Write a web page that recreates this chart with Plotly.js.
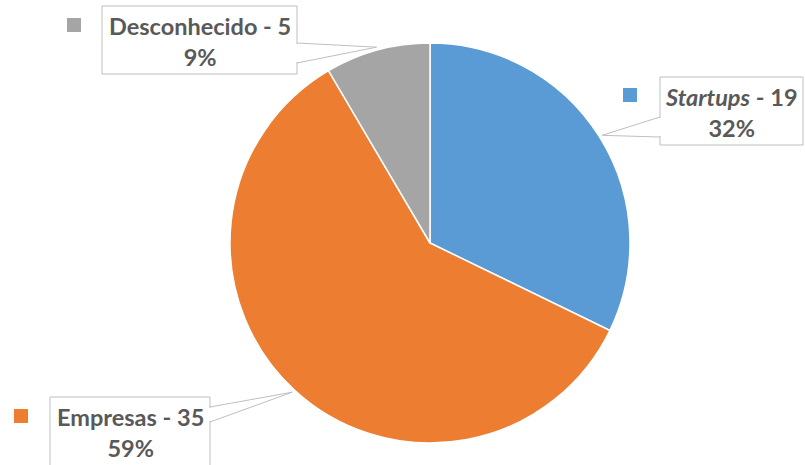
<!DOCTYPE html>
<html>
<head>
<meta charset="utf-8">
<script src="https://cdn.plot.ly/plotly-3.0.1.min.js"></script>
<style>html,body{margin:0;padding:0;background:#fff;}#chart{width:805px;height:465px;}</style>
</head>
<body>
<div id="chart"></div>
<script>
var labels = ["Startups", "Empresas", "Desconhecido"];
var labelHtml = ["<i>Startups</i>", "Empresas", "Desconhecido"];
var values = [19, 35, 5];
var percents = [32, 59, 9];
var colors = ["#5B9BD5", "#ED7D31", "#A5A5A5"];

var W = 805, H = 465;
var cx = 430, cy = 243, R = 200;
var total = values.reduce(function(a,b){return a+b;}, 0);

var boxes = [
  {x0: 660, y0: 77, x1: 803, y1: 145, side: "left", ay: [117, 137], mx: 623, my: 88},
  {x0: 50, y0: 397, x1: 210, y1: 470, side: "right", ay: [407, 422], mx: 14, my: 409},
  {x0: 102, y0: 6, x1: 297, y1: 74, side: "right", ay: [43, 63], mx: 67, my: 18}
];

function px(x){ return x / W; }
function py(y){ return 1 - y / H; }

var shapes = [], annotations = [];
var cum = 0;
for (var i = 0; i < values.length; i++) {
  var frac = values[i] / total;
  var mid = (cum + frac / 2) * 2 * Math.PI;
  cum += frac;
  var tx = cx + (R + 3) * Math.sin(mid);
  var ty = cy - (R + 3) * Math.cos(mid);
  var b = boxes[i];
  var ex = b.side === "left" ? b.x0 : b.x1;
  shapes.push({type: "path", xref: "paper", yref: "paper",
    path: "M" + px(ex) + "," + py(b.ay[0]) + " L" + px(tx) + "," + py(ty) + " L" + px(ex) + "," + py(b.ay[1]) + " Z",
    line: {color: "#BFBFBF", width: 1}, fillcolor: "#FFFFFF", layer: "above"});
  shapes.push({type: "rect", xref: "paper", yref: "paper",
    x0: px(b.x0), x1: px(b.x1), y0: py(b.y1), y1: py(b.y0),
    line: {color: "#BFBFBF", width: 1}, fillcolor: "#FFFFFF", layer: "above"});
  shapes.push({type: "line", xref: "paper", yref: "paper",
    x0: px(ex), x1: px(ex), y0: py(b.ay[0] + 1), y1: py(b.ay[1] - 1),
    line: {color: "#FFFFFF", width: 2}, layer: "above"});
  shapes.push({type: "rect", xref: "paper", yref: "paper",
    x0: px(b.mx), x1: px(b.mx + 14), y0: py(b.my + 14), y1: py(b.my),
    line: {width: 0}, fillcolor: colors[i], layer: "above"});
  annotations.push({xref: "paper", yref: "paper",
    x: px((b.x0 + b.x1) / 2), y: py(b.y0 + 4), xanchor: "center", yanchor: "top",
    text: "<b>" + labelHtml[i] + " - " + values[i] + "<br>" + percents[i] + "%</b>",
    showarrow: false, align: "center",
    font: {family: "Lato, 'Open Sans', sans-serif", size: 23.5, color: "#595959"}});
}

var data = [{
  type: "pie",
  labels: labels,
  values: values,
  sort: false,
  direction: "clockwise",
  rotation: 0,
  textinfo: "none",
  hoverinfo: "label+value+percent",
  marker: {colors: colors, line: {color: "#FFFFFF", width: 1.5}},
  domain: {x: [px(cx - R), px(cx + R)], y: [py(cy + R), py(cy - R)]}
}];

var layout = {
  width: W, height: H,
  margin: {l: 0, r: 0, t: 0, b: 0},
  paper_bgcolor: "#FFFFFF",
  showlegend: false,
  shapes: shapes,
  annotations: annotations
};

Plotly.newPlot("chart", data, layout, {displayModeBar: false, staticPlot: true});
</script>
</body>
</html>
